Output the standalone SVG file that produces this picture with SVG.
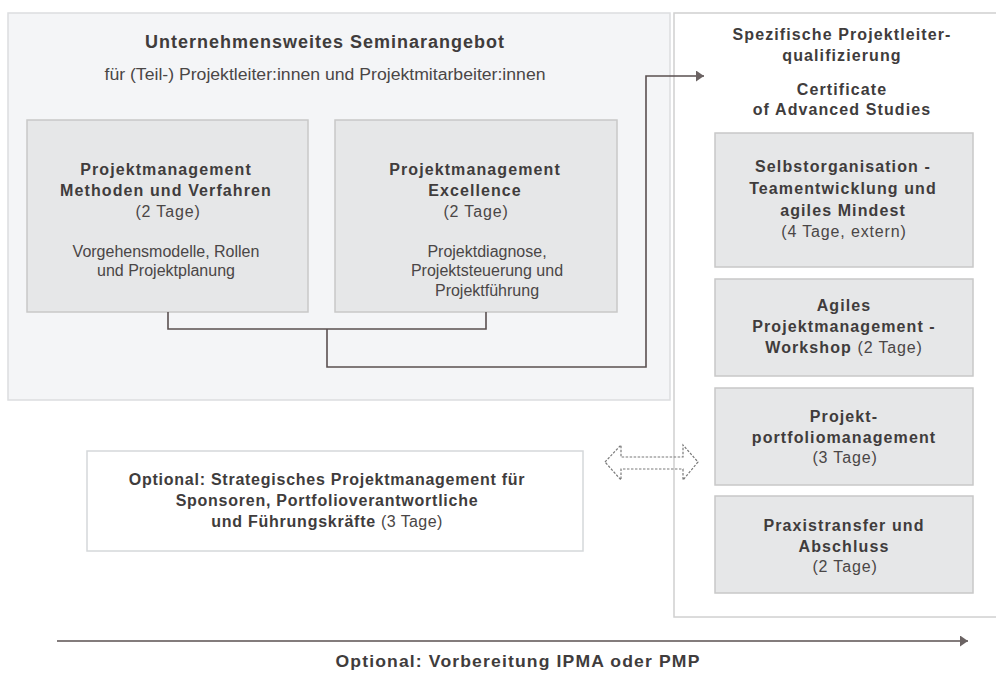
<svg xmlns="http://www.w3.org/2000/svg" width="996" height="673" viewBox="0 0 996 673">
<defs>
<style>
text{font-family:"Liberation Sans",Arial,Helvetica,sans-serif;fill:#403c3c;text-anchor:middle}
.b{font-weight:bold;font-size:16px;letter-spacing:1.1px}
.r{font-size:16px;fill:#4a4646}
.rl{font-size:16px;fill:#4a4646;letter-spacing:0.85px}
.rt{font-weight:normal;letter-spacing:0.85px;fill:#4a4646}
.t{font-weight:bold;font-size:18px;letter-spacing:1px}
.o{font-weight:bold;font-size:16px;letter-spacing:0.75px}
.card{fill:#e6e7e8;stroke:#c8c8c8;stroke-width:1.5}
.conn{fill:none;stroke:#5a5050;stroke-width:1.6}
</style>
<marker id="ah" viewBox="0 0 10 10" refX="10" refY="5" markerWidth="8" markerHeight="11" markerUnits="userSpaceOnUse" orient="auto" preserveAspectRatio="none">
<path d="M0,0 L10,5 L0,10 z" fill="#6b6363"/>
</marker>
</defs>
<rect width="996" height="673" fill="#ffffff"/>

<g id="seminarangebot">
<rect x="8" y="13" width="662" height="387" fill="#f4f5f7" stroke="#dcdddf" stroke-width="1.5"/>
<text class="t" x="325" y="48">Unternehmensweites Seminarangebot</text>
<text class="r" x="325" y="80" textLength="441" lengthAdjust="spacingAndGlyphs">für (Teil-) Projektleiter:innen und Projektmitarbeiter:innen</text>
</g>

<g id="pm-methoden">
<rect class="card" x="27" y="120" width="281" height="192"/>
<text class="b" x="166" y="175">Projektmanagement</text>
<text class="b" x="166" y="196">Methoden und Verfahren</text>
<text class="rl" x="168" y="217">(2 Tage)</text>
<text class="r" x="166" y="257">Vorgehensmodelle, Rollen</text>
<text class="r" x="166" y="276">und Projektplanung</text>
</g>

<g id="pm-excellence">
<rect class="card" x="335" y="120" width="282" height="192"/>
<text class="b" x="475" y="175">Projektmanagement</text>
<text class="b" x="475" y="196">Excellence</text>
<text class="rl" x="476" y="217">(2 Tage)</text>
<text class="r" x="487" y="257">Projektdiagnose,</text>
<text class="r" x="487" y="276">Projektsteuerung und</text>
<text class="r" x="487" y="296">Projektführung</text>
</g>

<g id="projektleiterqualifizierung">
<rect x="674" y="13" width="330" height="604" fill="#ffffff" stroke="#d0d0d0" stroke-width="1.5"/>
<text class="b" x="842" y="40">Spezifische Projektleiter-</text>
<text class="b" x="842" y="61">qualifizierung</text>
<text class="b" x="842" y="95">Certificate</text>
<text class="b" x="842" y="115">of Advanced Studies</text>
</g>

<g id="selbstorganisation">
<rect class="card" x="715" y="133" width="258" height="134"/>
<text class="b" x="843" y="172">Selbstorganisation -</text>
<text class="b" x="843" y="194">Teamentwicklung und</text>
<text class="b" x="843" y="216">agiles Mindest</text>
<text class="rl" x="844" y="237">(4 Tage, extern)</text>
</g>

<g id="agiles-pm">
<rect class="card" x="715" y="279" width="258" height="97"/>
<text class="b" x="844" y="311">Agiles</text>
<text class="b" x="844" y="332">Projektmanagement -</text>
<text class="b" x="844" y="353">Workshop <tspan class="rt">(2 Tage)</tspan></text>
</g>

<g id="portfolio">
<rect class="card" x="715" y="388" width="258" height="97"/>
<text class="b" x="844" y="422">Projekt-</text>
<text class="b" x="844" y="443">portfoliomanagement</text>
<text class="rl" x="845" y="463">(3 Tage)</text>
</g>

<g id="praxistransfer">
<rect class="card" x="715" y="496" width="258" height="97"/>
<text class="b" x="844" y="531">Praxistransfer und</text>
<text class="b" x="844" y="552">Abschluss</text>
<text class="rl" x="845" y="572">(2 Tage)</text>
</g>

<g id="strategisch">
<rect x="87" y="451" width="496" height="100" fill="#ffffff" stroke="#d5d8da" stroke-width="1.5"/>
<text class="o" x="327" y="485">Optional: Strategisches Projektmanagement für</text>
<text class="o" x="327" y="506">Sponsoren, Portfolioverantwortliche</text>
<text class="o" x="327" y="527">und Führungskräfte <tspan class="rt" style="letter-spacing:0.4px">(3 Tage)</tspan></text>
</g>

<g id="vorbereitung">
<text class="b" x="518" y="667" textLength="365" lengthAdjust="spacingAndGlyphs" style="font-size:17px">Optional: Vorbereitung IPMA oder PMP</text>
</g>

<g id="connectors">
<path class="conn" d="M168,312 V329 H486 V312"/>
<path class="conn" d="M327,329 V367 H646 V76 H704" marker-end="url(#ah)"/>
<path class="conn" d="M57,641 H968" marker-end="url(#ah)"/>
<polygon points="605,462 621,445 621,457 683,457 683,445 698,462 683,480 683,469 621,469 621,480" fill="none" stroke="#7a7a7a" stroke-width="1.2" stroke-dasharray="2.5,1.5"/>
</g>
</svg>
